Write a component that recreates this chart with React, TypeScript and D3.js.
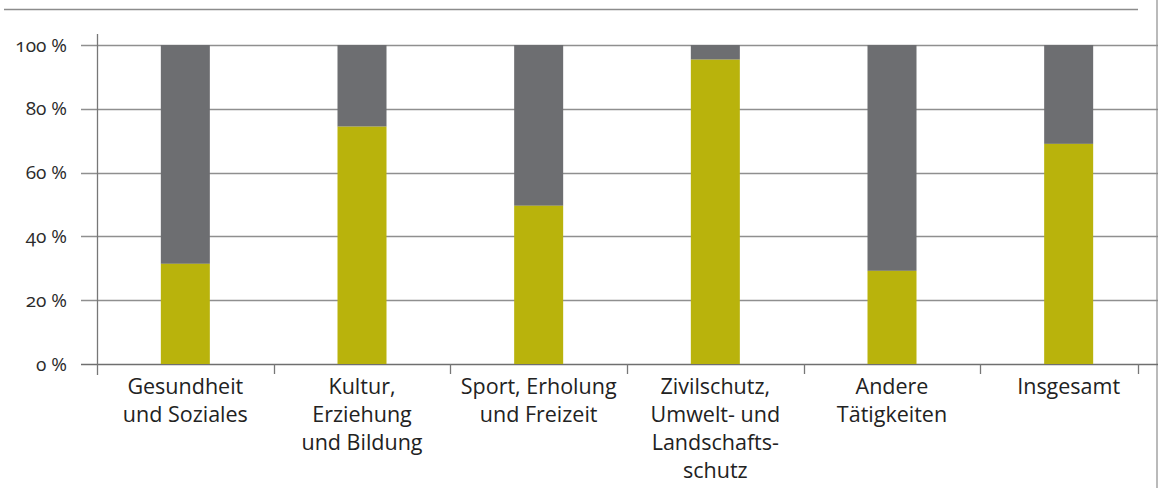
import { useRef, useEffect } from 'react';
import * as d3 from 'd3';

const categories = [
  ['Gesundheit', 'und Soziales'],
  ['Kultur,', 'Erziehung', 'und Bildung'],
  ['Sport, Erholung', 'und Freizeit'],
  ['Zivilschutz,', 'Umwelt- und', 'Landschafts-', 'schutz'],
  ['Andere', 'Tätigkeiten'],
  ['Insgesamt'],
];
const greenShare = [31.4, 74.4, 49.6, 95.4, 29.2, 69.0];
const yTicks = [0, 20, 40, 60, 80, 100];

export default function App() {
  const svgRef = useRef(null);
  const width = 1158;
  const height = 488;

  useEffect(() => {
    const margin = { top: 45, right: 1, bottom: 124, left: 97 };
    const svg = d3.select(svgRef.current);
    svg.selectAll('*').remove();

    const font = "'Open Sans', 'Noto Sans', sans-serif";

    const xScale = d3
      .scaleBand()
      .domain(categories.map((_, i) => String(i)))
      .range([margin.left, width - margin.right])
      .paddingInner(0)
      .paddingOuter(0);

    const yScale = d3
      .scaleLinear()
      .domain([0, 100])
      .range([height - margin.bottom, margin.top]);

    // top rule
    svg
      .append('line')
      .attr('x1', 4)
      .attr('x2', 1138)
      .attr('y1', 9.5)
      .attr('y2', 9.5)
      .attr('stroke', '#8c8c8c')
      .attr('stroke-width', 1.5);

    // right border
    svg
      .append('line')
      .attr('x1', width - 1)
      .attr('x2', width - 1)
      .attr('y1', 0)
      .attr('y2', height)
      .attr('stroke', '#8c8c8c')
      .attr('stroke-width', 1.2);

    // gridlines + y labels
    const grid = svg.append('g');
    grid
      .selectAll('line')
      .data(yTicks)
      .join('line')
      .attr('x1', margin.left - 16)
      .attr('x2', width)
      .attr('y1', (d) => Math.round(yScale(d)) + 0.5)
      .attr('y2', (d) => Math.round(yScale(d)) + 0.5)
      .attr('stroke', (d) => (d === 0 ? '#6f6f6f' : '#8f8f8f'))
      .attr('stroke-width', 1.3);

    grid
      .selectAll('text')
      .data(yTicks)
      .join('text')
      .attr('x', 67)
      .attr('y', (d) => yScale(d))
      .attr('dy', '0.35em')
      .attr('text-anchor', 'end')
      .attr('fill', '#2b2b2b')
      .style('font-family', font)
      .style('font-variant-numeric', 'oldstyle-nums')
      .style('font-size', '19px')
      .text((d) => `${d} %`);

    // bars
    const barW = 49;
    const bars = svg.append('g');
    bars
      .selectAll('rect.gray')
      .data(greenShare)
      .join('rect')
      .attr('class', 'gray')
      .attr('x', (_, i) => xScale(String(i)) + xScale.bandwidth() / 2 - barW / 2)
      .attr('width', barW)
      .attr('y', yScale(100))
      .attr('height', (d) => yScale(d) - yScale(100))
      .attr('fill', '#6d6e71');

    bars
      .selectAll('rect.green')
      .data(greenShare)
      .join('rect')
      .attr('class', 'green')
      .attr('x', (_, i) => xScale(String(i)) + xScale.bandwidth() / 2 - barW / 2)
      .attr('width', barW)
      .attr('y', (d) => yScale(d))
      .attr('height', (d) => yScale(0) - yScale(d))
      .attr('fill', '#b9b30c');

    // y axis line
    svg
      .append('line')
      .attr('x1', margin.left + 0.5)
      .attr('x2', margin.left + 0.5)
      .attr('y1', 34)
      .attr('y2', yScale(0) + 11)
      .attr('stroke', '#777')
      .attr('stroke-width', 1.3);

    // category boundary ticks
    const tickXs = categories.slice(1).map((_, i) => xScale(String(i + 1)));
    tickXs.push(xScale.range()[1] - 19);
    svg
      .append('g')
      .selectAll('line')
      .data(tickXs)
      .join('line')
      .attr('x1', (d) => Math.round(d) + 0.5)
      .attr('x2', (d) => Math.round(d) + 0.5)
      .attr('y1', yScale(0))
      .attr('y2', yScale(0) + 10)
      .attr('stroke', '#777')
      .attr('stroke-width', 1.3);

    // category labels
    const labels = svg
      .append('g')
      .selectAll('text')
      .data(categories)
      .join('text')
      .attr('x', (_, i) => xScale(String(i)) + xScale.bandwidth() / 2)
      .attr('y', yScale(0) + 30)
      .attr('text-anchor', 'middle')
      .attr('fill', '#222')
      .style('font-family', font)
      .style('font-size', '21.5px');

    labels
      .selectAll('tspan')
      .data((d) => d)
      .join('tspan')
      .attr('x', function () {
        return d3.select(this.parentNode).attr('x');
      })
      .attr('dy', (_, j) => (j === 0 ? 0 : 28))
      .text((d) => d);
  }, []);

  return (
    <svg
      ref={svgRef}
      width={width}
      height={height}
      style={{ position: 'absolute', left: 0, top: 0, background: '#fff' }}
    ></svg>
  );
}
